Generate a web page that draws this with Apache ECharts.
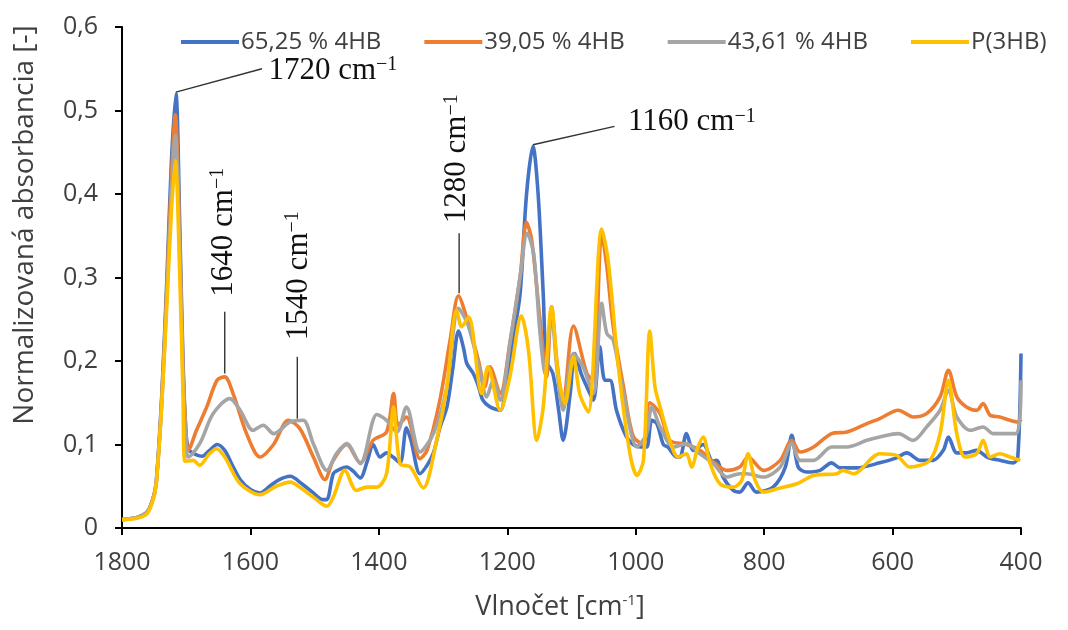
<!DOCTYPE html>
<html><head><meta charset="utf-8">
<script src="https://cdn.jsdelivr.net/npm/echarts@6/dist/echarts.min.js"></script>
<style>html,body{margin:0;padding:0;background:#fff}#c{width:1068px;height:630px}</style>
</head><body><div id="c"></div>
<script>
const seriesNames = ['65,25 % 4HB', '39,05 % 4HB', '43,61 % 4HB', 'P(3HB)'];
const seriesColors = ['#4472C4', '#ED7D31', '#A5A5A5', '#FFC000'];
const xTickValues = [1800, 1600, 1400, 1200, 1000, 800, 600, 400];
const yTickLabels = ['0', '0,1', '0,2', '0,3', '0,4', '0,5', '0,6'];

const s6525 = [[1800,0.010],[1775,0.013],[1760,0.020],[1750,0.040],[1746,0.061],[1738,0.160],[1730,0.300],[1723,0.440],[1716,0.520],[1710,0.360],[1705,0.200],[1700,0.110],[1695,0.093],[1685,0.088],[1675,0.086],[1665,0.092],[1652,0.100],[1640,0.093],[1628,0.075],[1616,0.058],[1600,0.046],[1585,0.042],[1570,0.050],[1555,0.058],[1538,0.062],[1520,0.053],[1502,0.042],[1487,0.034],[1481,0.034],[1471,0.065],[1462,0.070],[1450,0.073],[1440,0.068],[1429,0.060],[1418,0.080],[1409,0.100],[1398,0.085],[1388,0.090],[1378,0.085],[1367,0.078],[1357,0.120],[1350,0.105],[1336,0.065],[1325,0.075],[1315,0.090],[1305,0.120],[1294,0.145],[1285,0.190],[1276,0.236],[1268,0.215],[1263,0.197],[1253,0.185],[1245,0.170],[1238,0.153],[1227,0.145],[1211,0.141],[1201,0.180],[1190,0.230],[1180,0.281],[1170,0.400],[1160,0.457],[1152,0.400],[1144,0.280],[1139,0.200],[1129,0.185],[1120,0.141],[1113,0.105],[1102,0.161],[1095,0.209],[1085,0.185],[1076,0.169],[1066,0.153],[1056,0.217],[1048,0.177],[1040,0.177],[1030,0.141],[1015,0.110],[1004,0.100],[993,0.097],[983,0.097],[975,0.129],[967,0.125],[957,0.100],[950,0.097],[936,0.085],[931,0.085],[921,0.113],[910,0.093],[895,0.100],[880,0.080],[874,0.081],[864,0.061],[848,0.045],[838,0.043],[825,0.054],[812,0.043],[786,0.049],[767,0.073],[757,0.111],[747,0.073],[734,0.067],[713,0.069],[695,0.078],[682,0.072],[656,0.072],[620,0.078],[594,0.084],[578,0.090],[557,0.081],[537,0.081],[521,0.093],[513,0.109],[500,0.090],[485,0.090],[469,0.093],[453,0.085],[433,0.081],[412,0.078],[405,0.085],[400,0.209]];

const s3905 = [[1800,0.010],[1775,0.013],[1760,0.020],[1750,0.040],[1746,0.060],[1738,0.155],[1730,0.290],[1723,0.420],[1717,0.495],[1710,0.340],[1705,0.190],[1700,0.110],[1697,0.093],[1684,0.117],[1668,0.145],[1652,0.177],[1640,0.181],[1627,0.161],[1606,0.113],[1585,0.085],[1564,0.100],[1541,0.129],[1523,0.119],[1502,0.085],[1484,0.058],[1471,0.081],[1450,0.100],[1429,0.078],[1409,0.105],[1388,0.115],[1377,0.161],[1370,0.123],[1357,0.133],[1336,0.083],[1325,0.093],[1305,0.153],[1289,0.225],[1276,0.278],[1263,0.251],[1245,0.201],[1235,0.169],[1227,0.193],[1211,0.161],[1196,0.221],[1180,0.301],[1170,0.366],[1162,0.345],[1149,0.249],[1139,0.181],[1131,0.265],[1123,0.201],[1113,0.149],[1097,0.242],[1076,0.185],[1066,0.177],[1053,0.353],[1045,0.313],[1035,0.241],[1019,0.169],[1004,0.110],[988,0.100],[978,0.150],[962,0.137],[947,0.105],[921,0.100],[900,0.093],[879,0.079],[858,0.069],[838,0.073],[825,0.085],[801,0.069],[775,0.081],[757,0.105],[744,0.091],[723,0.097],[695,0.113],[671,0.115],[640,0.125],[620,0.131],[591,0.141],[568,0.133],[547,0.137],[526,0.157],[513,0.189],[500,0.157],[485,0.145],[469,0.141],[459,0.149],[448,0.135],[433,0.133],[417,0.129],[404,0.127],[400,0.130]];

const s4361 = [[1800,0.010],[1775,0.013],[1760,0.020],[1750,0.040],[1746,0.060],[1738,0.150],[1730,0.280],[1723,0.400],[1717,0.470],[1710,0.330],[1705,0.180],[1700,0.100],[1697,0.085],[1679,0.101],[1658,0.137],[1632,0.155],[1616,0.141],[1596,0.117],[1580,0.123],[1564,0.113],[1538,0.127],[1518,0.129],[1502,0.101],[1481,0.069],[1466,0.089],[1450,0.101],[1429,0.077],[1403,0.136],[1388,0.129],[1372,0.115],[1357,0.145],[1336,0.091],[1315,0.113],[1294,0.169],[1276,0.263],[1261,0.243],[1243,0.189],[1232,0.157],[1222,0.177],[1211,0.153],[1196,0.221],[1180,0.301],[1169,0.353],[1159,0.329],[1149,0.233],[1141,0.185],[1131,0.257],[1123,0.193],[1113,0.141],[1097,0.209],[1082,0.193],[1066,0.161],[1053,0.269],[1045,0.233],[1035,0.225],[1019,0.161],[998,0.097],[983,0.113],[975,0.145],[962,0.121],[941,0.097],[921,0.101],[900,0.089],[879,0.077],[858,0.061],[838,0.065],[827,0.065],[801,0.061],[775,0.073],[757,0.101],[744,0.081],[723,0.081],[695,0.097],[671,0.097],[640,0.105],[620,0.109],[591,0.113],[568,0.105],[547,0.121],[526,0.141],[513,0.165],[500,0.133],[479,0.117],[459,0.121],[443,0.113],[407,0.113],[400,0.177]];

const sP3HB = [[1800,0.010],[1775,0.012],[1760,0.018],[1750,0.038],[1746,0.058],[1738,0.150],[1730,0.270],[1723,0.380],[1717,0.440],[1710,0.300],[1705,0.160],[1702,0.080],[1689,0.081],[1679,0.075],[1665,0.088],[1653,0.095],[1640,0.085],[1616,0.053],[1585,0.040],[1560,0.050],[1538,0.055],[1520,0.047],[1502,0.037],[1481,0.026],[1471,0.037],[1453,0.069],[1435,0.045],[1419,0.049],[1403,0.049],[1388,0.065],[1377,0.145],[1367,0.077],[1351,0.073],[1331,0.048],[1310,0.105],[1294,0.169],[1279,0.261],[1271,0.241],[1260,0.253],[1240,0.161],[1230,0.193],[1211,0.141],[1196,0.181],[1178,0.254],[1167,0.213],[1154,0.105],[1144,0.145],[1131,0.265],[1121,0.185],[1110,0.149],[1097,0.205],[1087,0.160],[1074,0.139],[1053,0.358],[1043,0.321],[1027,0.193],[1009,0.089],[998,0.063],[988,0.081],[978,0.236],[970,0.169],[962,0.145],[947,0.105],[934,0.085],[921,0.089],[913,0.073],[903,0.097],[895,0.109],[884,0.077],[869,0.053],[848,0.049],[835,0.057],[825,0.089],[814,0.057],[801,0.043],[775,0.048],[749,0.053],[723,0.063],[687,0.065],[677,0.069],[661,0.065],[620,0.089],[594,0.087],[573,0.073],[542,0.081],[526,0.113],[513,0.177],[500,0.113],[487,0.085],[469,0.089],[459,0.105],[448,0.085],[433,0.089],[417,0.085],[401,0.081]];

const seriesData = [s6525, s3905, s4361, sP3HB];

// peak annotations (data coordinates): peak point, end of leader line, text anchor
const annotations = [
  {label: '1720 cm', peak: [1716, 0.522], lineEnd: [1582, 0.550], textAt: [1572, 0.548], vertical: false},
  {label: '1160 cm', peak: [1160, 0.459], lineEnd: [1033, 0.481], textAt: [1012, 0.486], vertical: false},
  {label: '1640 cm', peak: [1640, 0.185], lineEnd: [1640, 0.259], textAt: [1642, 0.277], vertical: true},
  {label: '1540 cm', peak: [1527, 0.131], lineEnd: [1527, 0.205], textAt: [1525, 0.225], vertical: true},
  {label: '1280 cm', peak: [1275, 0.281], lineEnd: [1275, 0.353], textAt: [1278, 0.365], vertical: true}
];

const chart = echarts.init(document.getElementById('c'), null, {renderer: 'canvas'});
const sansFont = 'Open Sans';
const labelColor = '#404040';

chart.setOption({
  animation: false,
  backgroundColor: '#ffffff',
  grid: {left: 122, right: 47, top: 27, bottom: 102, containLabel: false},
  legend: {
    data: seriesNames,
    left: 176, top: 25,
    icon: 'rect', itemWidth: 58, itemHeight: 4, itemGap: 43,
    textStyle: {fontFamily: sansFont, fontSize: 24, color: labelColor, padding: [0, 0, 0, -3]}
  },
  xAxis: {
    type: 'value', min: 400, max: 1800, interval: 200, inverse: true,
    axisLine: {show: true, lineStyle: {color: '#000', width: 2}},
    axisTick: {show: true, inside: false, length: 7, lineStyle: {color: '#000', width: 2}},
    splitLine: {show: false},
    axisLabel: {
      fontFamily: sansFont, fontSize: 25, color: labelColor, margin: 22,
      formatter: v => xTickValues.includes(v) ? String(v) : ''
    }
  },
  yAxis: {
    type: 'value', min: 0, max: 0.6, interval: 0.1,
    axisLine: {show: true, lineStyle: {color: '#000', width: 2}},
    axisTick: {show: true, inside: false, length: 7, lineStyle: {color: '#000', width: 2}},
    splitLine: {show: false},
    axisLabel: {
      fontFamily: sansFont, fontSize: 25, color: labelColor, margin: 24,
      formatter: v => yTickLabels[Math.round(v * 10)]
    }
  },
  series: seriesNames.map((n, i) => ({
    name: n, type: 'line', data: seriesData[i],
    showSymbol: false, symbol: 'none',
    smooth: 0.3,
    lineStyle: {color: seriesColors[i], width: 3.6},
    itemStyle: {color: seriesColors[i]},
    z: 2 + i
  }))
});

const px = p => chart.convertToPixel({gridIndex: 0}, p);
const serif = 'Liberation Serif';
const graphics = [];
annotations.forEach(a => {
  const p0 = px(a.peak), p1 = px(a.lineEnd), pt = px(a.textAt);
  graphics.push({
    type: 'line', z: 50,
    shape: {x1: p0[0], y1: p0[1], x2: p1[0], y2: p1[1]},
    style: {stroke: '#333333', lineWidth: 1.4}
  });
  graphics.push({
    type: 'text', z: 50,
    x: pt[0], y: pt[1],
    rotation: a.vertical ? Math.PI / 2 : 0,
    style: {
      text: '{n|' + a.label + '}{s|\u22121}',
      align: 'left', verticalAlign: 'middle',
      rich: {
        n: {fontFamily: serif, fontSize: 31, fill: '#111'},
        s: {fontFamily: serif, fontSize: 20, fill: '#111', verticalAlign: 'top', lineHeight: 20}
      }
    }
  });
});
// axis titles
graphics.push({
  type: 'text', z: 50, x: 25, y: 225, rotation: Math.PI / 2,
  style: {text: 'Normalizovaná absorbancia [-]', align: 'center', verticalAlign: 'middle',
    fontFamily: sansFont, fontSize: 28, fill: labelColor}
});
graphics.push({
  type: 'text', z: 50, x: 560, y: 607,
  style: {
    text: '{a|Vlnočet [cm}{s|-1}{a|]}', align: 'center', verticalAlign: 'middle',
    rich: {
      a: {fontFamily: sansFont, fontSize: 27, fill: labelColor},
      s: {fontFamily: sansFont, fontSize: 15, fill: labelColor, verticalAlign: 'top', lineHeight: 15}
    }
  }
});
chart.setOption({graphic: graphics});
</script>
</body></html>
